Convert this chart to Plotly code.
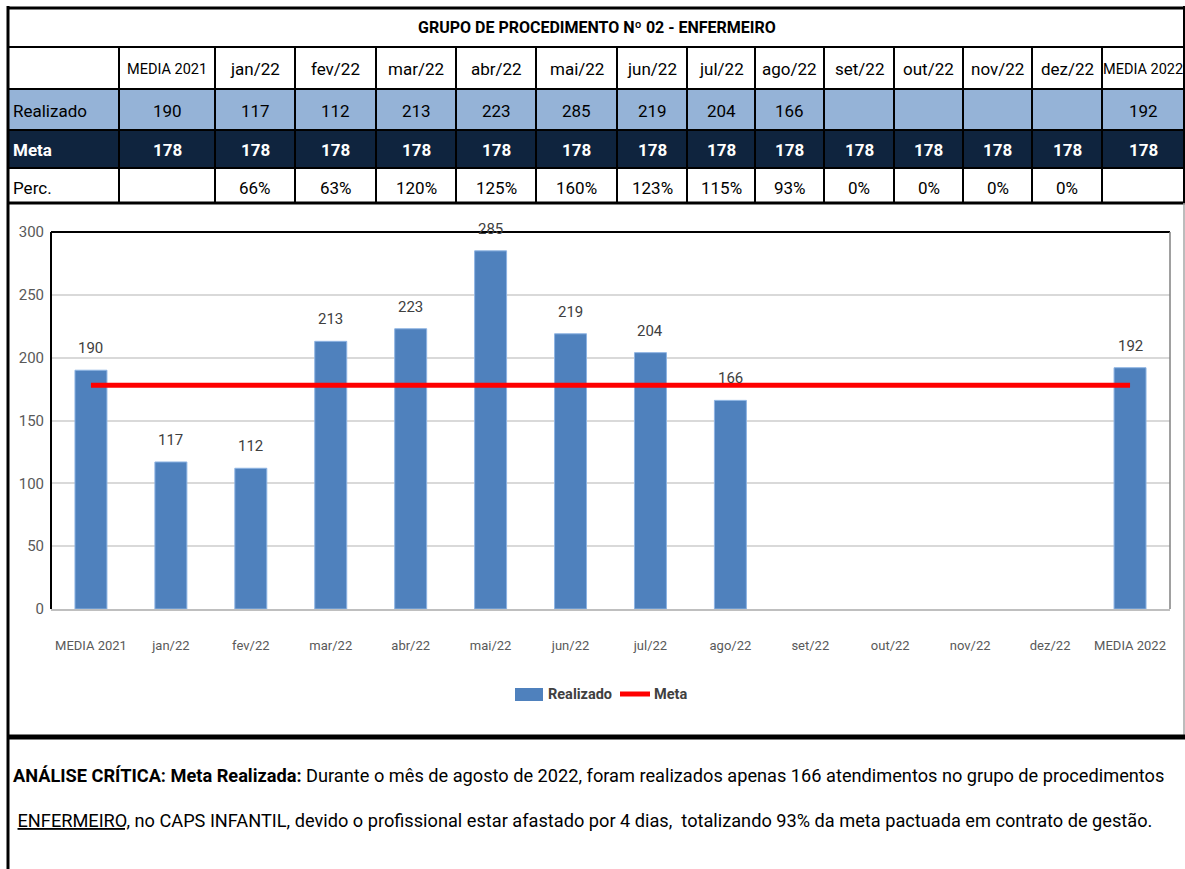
import plotly.graph_objects as go

# ---------------- data ----------------
categories = ["MEDIA 2021", "jan/22", "fev/22", "mar/22", "abr/22", "mai/22", "jun/22",
              "jul/22", "ago/22", "set/22", "out/22", "nov/22", "dez/22", "MEDIA 2022"]
realizado = [190, 117, 112, 213, 223, 285, 219, 204, 166, None, None, None, None, 192]
meta = [178, 178, 178, 178, 178, 178, 178, 178, 178, 178, 178, 178, 178, 178]
perc = ["", "66%", "63%", "120%", "125%", "160%", "123%", "115%", "93%", "0%", "0%", "0%", "0%", ""]
row_labels = ["Realizado", "Meta", "Perc."]
table_title = "GRUPO DE PROCEDIMENTO Nº 02 - ENFERMEIRO"
y_ticks = [0, 50, 100, 150, 200, 250, 300]
legend_names = ["Realizado", "Meta"]

# ---------------- layout helpers (pixel -> paper) ----------------
W, H = 1185, 869
L, R, T, B = 51, 1170, 232, 609
FONT = "Roboto, Liberation Sans, sans-serif"


def px(x):
    return (x - L) / (R - L)


def py(y):
    return (B - y) / (B - T)


col_edges = [8, 119, 215, 295, 376, 456, 536, 617, 687, 755, 824, 894, 963, 1032, 1102, 1184]
row_edges = [8, 47, 89, 130, 168, 203]

BLUE = "#4F81BD"
LIGHT = "#95B3D7"
NAVY = "#0F243E"
RED = "#FF0000"

fig = go.Figure()

fig.add_trace(go.Bar(
    x=categories, y=realizado, name=legend_names[0],
    marker=dict(color=BLUE, line=dict(color="#8EB4E3", width=1)),
    width=0.4, showlegend=False,
))
fig.add_trace(go.Scatter(
    x=categories, y=meta, name=legend_names[1], mode="lines",
    line=dict(color=RED, width=5), showlegend=False,
))

shapes = []
annotations = []


def hline(y, x0, x1, w=2, c="black"):
    shapes.append(dict(type="line", xref="paper", yref="paper",
                       x0=px(x0), x1=px(x1), y0=py(y), y1=py(y),
                       line=dict(color=c, width=w), layer="above"))


def vline(x, y0, y1, w=2, c="black"):
    shapes.append(dict(type="line", xref="paper", yref="paper",
                       x0=px(x), x1=px(x), y0=py(y0), y1=py(y1),
                       line=dict(color=c, width=w), layer="above"))


def rect(x0, y0, x1, y1, fill, layer="below"):
    shapes.append(dict(type="rect", xref="paper", yref="paper",
                       x0=px(x0), x1=px(x1), y0=py(y0), y1=py(y1),
                       fillcolor=fill, line=dict(width=0), layer=layer))


def text(x, y, s, size=17, color="black", bold=False, anchor="center"):
    if bold:
        s = "<b>" + s + "</b>"
    annotations.append(dict(xref="paper", yref="paper", x=px(x), y=py(y),
                            text=s, showarrow=False, xanchor=anchor, yanchor="middle",
                            font=dict(family=FONT, size=size, color=color)))


# table fills
rect(col_edges[0], row_edges[2], col_edges[-1], row_edges[3], LIGHT)
rect(col_edges[0], row_edges[3], col_edges[-1], row_edges[4], NAVY)

# table lines
for i, y in enumerate(row_edges):
    hline(y, 7, 1185, w=3 if i in (0, 5) else 2)
for x in col_edges[1:-1]:
    vline(x, row_edges[1], row_edges[-1])
vline(8, 6, 869, w=3)
vline(1184, 6, 203, w=2)

# chart box
vline(1184, 203, 736, w=1.5, c="#A6A6A6")
hline(737, 7, 1185, w=5)

# plot area frame
hline(T, L, R, w=2)
vline(L, T, B, w=2)
vline(R, T, B, w=1.5, c="#808080")

# table texts
text((col_edges[0] + col_edges[-1]) / 2 + 1, (row_edges[0] + row_edges[1]) / 2, table_title,
     size=16, bold=True)
for i, cat in enumerate(categories):
    cx = (col_edges[i + 1] + col_edges[i + 2]) / 2
    text(cx, (row_edges[1] + row_edges[2]) / 2 + 1, cat, size=14.5 if len(cat) > 7 else 17)
    if realizado[i] is not None:
        text(cx, (row_edges[2] + row_edges[3]) / 2 + 1, str(realizado[i]))
    text(cx, (row_edges[3] + row_edges[4]) / 2 + 1, str(meta[i]), color="white", bold=True)
    if perc[i]:
        text(cx, (row_edges[4] + row_edges[5]) / 2 + 2, perc[i])
text(11, (row_edges[2] + row_edges[3]) / 2 + 1, row_labels[0], anchor="left")
text(11, (row_edges[3] + row_edges[4]) / 2 + 1, row_labels[1], color="white", bold=True, anchor="left")
text(11, (row_edges[4] + row_edges[5]) / 2 + 2, row_labels[2], anchor="left")

# data labels above bars
for cat, v in zip(categories, realizado):
    if v is not None:
        annotations.append(dict(x=cat, y=v, xref="x", yref="y", text=str(v), showarrow=False,
                                yshift=22, font=dict(family=FONT, size=15, color="#404040")))

# custom legend (wide Excel-style swatches)
rect(515, 688, 543, 701, BLUE, layer="above")
text(546, 694, legend_names[0], size=14.5, color="#404040", bold=True, anchor="left")
hline(694, 620, 650, w=5, c=RED)
text(652, 694, legend_names[1], size=14.5, color="#404040", bold=True, anchor="left")

# critical analysis text
line1 = ("<b>ANÁLISE CRÍTICA: Meta Realizada:</b> Durante o mês de agosto de 2022, foram realizados "
         "apenas 166 atendimentos no grupo de procedimentos")
line2 = (" <u>ENFERMEIRO,</u> no CAPS INFANTIL, devido o profissional estar afastado por 4 dias,  "
         "totalizando 93% da meta pactuada em contrato de gestão.")
annotations.append(dict(xref="paper", yref="paper", x=px(11), y=py(775), text=line1,
                        showarrow=False, xanchor="left", yanchor="middle",
                        font=dict(family=FONT, size=18.2, color="black")))
annotations.append(dict(xref="paper", yref="paper", x=px(11), y=py(820), text=line2,
                        showarrow=False, xanchor="left", yanchor="middle",
                        font=dict(family=FONT, size=18.2, color="black")))

fig.update_layout(
    width=W, height=H, autosize=False,
    margin=dict(l=L, r=W - R, t=T, b=H - B, pad=0),
    paper_bgcolor="white", plot_bgcolor="white",
    shapes=shapes, annotations=annotations,
    showlegend=False,
    font=dict(family=FONT),
)
fig.update_xaxes(type="category", categoryorder="array", categoryarray=categories,
                 showline=True, linecolor="#BFBFBF", linewidth=1.5,
                 tickfont=dict(family=FONT, size=13, color="#595959"),
                 ticks="", ticklabelstandoff=24, showgrid=False)
fig.update_yaxes(range=[0, 300], tickvals=y_ticks, showgrid=True, gridcolor="#D9D9D9",
                 gridwidth=1.5, zeroline=False, showline=False,
                 tickfont=dict(family=FONT, size=15, color="#595959"), ticklabelstandoff=6)

fig.write_html("out.html", config={"displayModeBar": False},
               post_script="document.body.style.margin='0px';document.body.style.overflow='hidden';")
